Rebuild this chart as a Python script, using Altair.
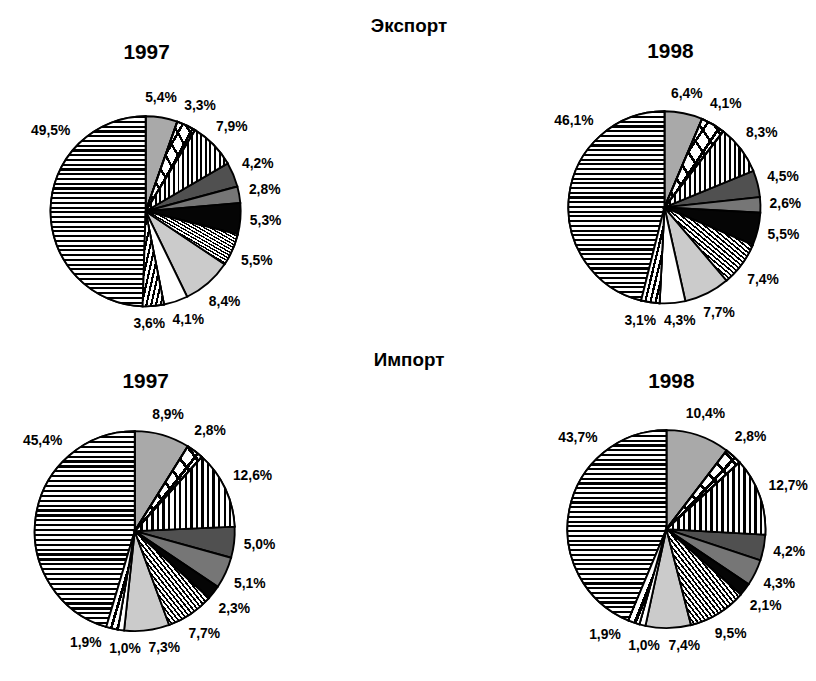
import math
import altair as alt
import pandas as pd

# ---- data (shares in %, clockwise from 12 o'clock) ----
categories = list(range(1, 12))
export_1997 = [5.4, 3.3, 7.9, 4.2, 2.8, 5.3, 5.5, 8.4, 4.1, 3.6, 49.5]
export_1998 = [6.4, 4.1, 8.3, 4.5, 2.6, 5.5, 7.4, 7.7, 4.3, 3.1, 46.1]
import_1997 = [8.9, 2.8, 12.6, 5.0, 5.1, 2.3, 7.7, 7.3, 1.0, 1.9, 45.4]
import_1998 = [10.4, 2.8, 12.7, 4.2, 4.3, 2.1, 9.5, 7.4, 1.0, 1.9, 43.7]
section_titles = ["Экспорт", "Импорт"]
years = ["1997", "1998"]

series = {
    "exp1997": export_1997,
    "exp1998": export_1998,
    "imp1997": import_1997,
    "imp1998": import_1998,
}

# ---- layout / style ----
FONT = "Liberation Sans"
LABEL_SIZE = 14
CHAR_W = 8.0     # approx. width of one label character (px)
LABEL_H = 16.0
GAP = 9.0
SEP = 7.0        # min horizontal free space between neighbouring labels

layout = {
    # pie: (cx, cy, r, year-title x, year-title y, year)
    "exp1997": (139, 202, 96, 140, 42, years[0]),
    "exp1998": (663, 198, 97, 669, 41, years[1]),
    "imp1997": (128, 525, 101, 139, 374, years[0]),
    "imp1998": (665, 523, 100, 670, 374, years[1]),
}


def fmt(v):
    return f"{v:.1f}".replace(".", ",") + "%"


def label_angles(vals, r):
    """Outside-end label angles (in % of the circle), nudged apart so that
    neighbouring labels do not overlap."""
    total = sum(vals)
    cum, mids = 0.0, []
    for v in vals:
        f = 0.72 if v > 40 else 0.5
        mids.append((cum + v * f) / total * 360.0)
        cum += v
    ws = [len(fmt(v)) * CHAR_W for v in vals]

    def pos(th, w):
        a = math.radians(th)
        lr = r + GAP + abs(math.sin(a)) * w / 2 + abs(math.cos(a)) * LABEL_H / 2
        return lr * math.sin(a), -lr * math.cos(a)

    ang = mids[:]
    n = len(ang)
    for _ in range(800):
        moved = False
        for i in range(n - 1):
            j = i + 1
            xi, yi = pos(ang[i], ws[i])
            xj, yj = pos(ang[j], ws[j])
            if (abs(xi - xj) < (ws[i] + ws[j]) / 2 + SEP
                    and abs(yi - yj) < LABEL_H + 1):
                ang[i] -= 0.4
                ang[j] += 0.4
                moved = True
        if not moved:
            break
    return [a / 360.0 * 100.0 for a in ang]


rows = []
for pie, vals in series.items():
    labs = label_angles(vals, layout[pie][2])
    for c, v, la in zip(categories, vals, labs):
        rows.append({"pie": pie, "cat": c, "value": v, "label": fmt(v),
                     "lab_at": la})
df = pd.DataFrame(rows)

grays = ["#a9a9a9", "#ffffff", "#8c8c8c", "#505050", "#767676", "#050505",
         "#858585", "#cbcbcb", "#ffffff", "#9a9a9a", "#bdbdbd"]


def stripes(n, x1, y1, x2, y2, frac=0.45, bg="#ffffff"):
    stops = []
    for i in range(n):
        a = i / n
        b = (i + frac) / n
        c = (i + 1) / n
        stops += [
            {"offset": a, "color": "#000000"},
            {"offset": b, "color": "#000000"},
            {"offset": b, "color": bg},
            {"offset": c, "color": bg},
        ]
    return {"gradient": "linear", "x1": x1, "y1": y1, "x2": x2, "y2": y2,
            "stops": stops}


CLEAR = "rgba(255,255,255,0)"
patterns = [
    (11, stripes(40, 0, 0, 0, 1, 0.45)),            # horizontal lines
    (3, stripes(18, 0, 0, 1, 0, 0.42)),             # vertical lines
    (7, stripes(32, 0, 1, 1, 0, 0.45)),             # "\\\" lines
    (10, stripes(9, 0, 0, 1, 1, 0.45)),             # "///" lines
    (2, stripes(8, 0, 0, 1, 1, 0.22, CLEAR)),       # cross-hatch, one way
    (2, stripes(8, 0, 1, 1, 0, 0.22, CLEAR)),       # cross-hatch, other way
]

theta_scale = alt.Scale(domain=[0, 100])
SW = 1.9

layers = []
for pie, (cx, cy, r, tx, ty, yr) in layout.items():
    base = (
        alt.Chart(df)
        .transform_filter(alt.datum.pie == pie)
        .transform_stack(stack="value", groupby=["pie"], as_=["t0", "t1"],
                         sort=[alt.SortField("cat", order="ascending")])
    )
    enc = dict(
        theta=alt.Theta("t0:Q", scale=theta_scale),
        theta2="t1:Q",
        x=alt.value(cx),
        y=alt.value(cy),
    )
    layers.append(
        base.mark_arc(radius=r, stroke="black", strokeWidth=SW).encode(
            fill=alt.Fill("cat:N",
                          scale=alt.Scale(domain=categories, range=grays),
                          legend=None),
            **enc,
        )
    )
    for k, grad in patterns:
        layers.append(
            base.transform_filter(alt.datum.cat == k)
            .mark_arc(radius=r, fill=grad, stroke="black", strokeWidth=SW)
            .encode(**enc)
        )
    labels = (
        base.transform_calculate(
            a="datum.lab_at / 100 * 2 * PI",
            w=f"length(datum.label) * {CHAR_W}",
        )
        .transform_calculate(
            lr=f"{r + GAP} + abs(sin(datum.a)) * datum.w / 2"
               f" + abs(cos(datum.a)) * {LABEL_H / 2}"
        )
        .mark_text(font=FONT, fontSize=LABEL_SIZE, fontWeight="bold",
                   align="center", baseline="middle", color="black")
        .encode(theta=alt.Theta("lab_at:Q", scale=theta_scale),
                radius=alt.Radius("lr:Q", scale=None),
                x=alt.value(cx), y=alt.value(cy), text="label:N")
    )
    layers.append(labels)
    layers.append(
        alt.Chart(pd.DataFrame({"t": [yr]}))
        .mark_text(font=FONT, fontSize=21, fontWeight="bold", align="center",
                   baseline="middle", color="black")
        .encode(text="t:N", x=alt.value(tx), y=alt.value(ty))
    )

for title, ty in zip(section_titles, [15, 352]):
    layers.append(
        alt.Chart(pd.DataFrame({"t": [title]}))
        .mark_text(font=FONT, fontSize=19, fontWeight="bold", align="center",
                   baseline="middle", color="black")
        .encode(text="t:N", x=alt.value(405), y=alt.value(ty))
    )

chart = (
    alt.layer(*layers)
    .properties(width=808, height=662, padding=0, background="white",
                autosize="none")
    .configure_view(stroke=None)
)

chart.save("out.html", embed_options={"renderer": "svg", "actions": False})
